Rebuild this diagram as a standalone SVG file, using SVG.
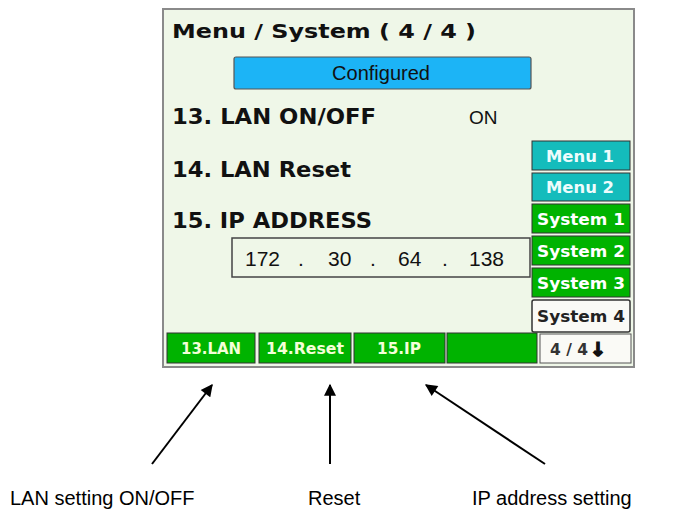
<svg xmlns="http://www.w3.org/2000/svg" width="678" height="518" viewBox="0 0 678 518">
<defs>
<style>
.scr{font-family:"DejaVu Sans",Verdana,sans-serif;font-weight:bold;fill:#111}
.lbl{font-family:"Liberation Sans",Arial,sans-serif;font-size:20px;fill:#000}
.btn{font-family:"DejaVu Sans",Verdana,sans-serif;font-weight:bold;font-size:15px;text-anchor:middle}
.teal{fill:#14bcbc;stroke:#333;stroke-width:1}
.grn{fill:#00b300;stroke:#333;stroke-width:1}
.conn{stroke:#000;stroke-width:2;fill:none;marker-end:url(#ah)}
</style>
<marker id="ah" viewBox="0 0 10 10" refX="9" refY="5" markerWidth="7" markerHeight="6" orient="auto" markerUnits="strokeWidth">
<path d="M0,0 L10,5 L0,10 z" fill="#000"/>
</marker>
</defs>
<rect width="678" height="518" fill="#fff"/>
<g id="screen">
<rect x="163" y="9" width="471" height="358" fill="#eff7e8" stroke="#8a8a8a" stroke-width="2"/>
<text class="scr" x="172" y="38" font-size="20" textLength="304" lengthAdjust="spacingAndGlyphs">Menu / System ( 4 / 4 )</text>
</g>
<g id="configured">
<rect x="234" y="57" width="297" height="32" rx="2" fill="#1cb4f6" stroke="#555" stroke-width="1.2"/>
<text x="381" y="80" font-family="Liberation Sans,Arial,sans-serif" font-size="20" text-anchor="middle" fill="#111">Configured</text>
</g>
<g id="lan-onoff">
<text class="scr" x="172" y="124" font-size="21" textLength="204" lengthAdjust="spacingAndGlyphs">13. LAN ON/OFF</text>
<text x="469" y="124" font-family="Liberation Sans,Arial,sans-serif" font-size="19" fill="#111">ON</text>
</g>
<g id="lan-reset">
<text class="scr" x="172" y="177" font-size="21" textLength="179" lengthAdjust="spacingAndGlyphs">14. LAN Reset</text>
</g>
<g id="ip-address">
<text class="scr" x="172" y="228" font-size="21" textLength="200" lengthAdjust="spacingAndGlyphs">15. IP ADDRESS</text>
<rect x="232" y="238" width="298" height="39" fill="none" stroke="#444" stroke-width="1.5"/>
<g font-family="Liberation Sans,Arial,sans-serif" font-size="21" fill="#111">
<text x="245" y="266">172</text><text x="298" y="266">.</text>
<text x="328" y="266">30</text><text x="370" y="266">.</text>
<text x="398" y="266">64</text><text x="442" y="266">.</text>
<text x="469" y="266">138</text>
</g>
</g>
<g id="side-menu1"><rect class="teal" x="532" y="141" width="98" height="29"/><text class="btn" x="580" y="162" fill="#eefcfc" textLength="68" lengthAdjust="spacingAndGlyphs">Menu 1</text></g>
<g id="side-menu2"><rect class="teal" x="532" y="173" width="98" height="28"/><text class="btn" x="580" y="193" fill="#eefcfc" textLength="68" lengthAdjust="spacingAndGlyphs">Menu 2</text></g>
<g id="side-system1"><rect class="grn" x="532" y="204" width="98" height="29"/><text class="btn" x="581" y="225" fill="#fff" textLength="88" lengthAdjust="spacingAndGlyphs">System 1</text></g>
<g id="side-system2"><rect class="grn" x="532" y="236" width="98" height="29"/><text class="btn" x="581" y="257" fill="#fff" textLength="88" lengthAdjust="spacingAndGlyphs">System 2</text></g>
<g id="side-system3"><rect class="grn" x="532" y="268" width="98" height="29"/><text class="btn" x="581" y="289" fill="#fff" textLength="88" lengthAdjust="spacingAndGlyphs">System 3</text></g>
<g id="side-system4"><rect x="532" y="300" width="98" height="32" rx="2" fill="#fafaf6" stroke="#333" stroke-width="1.5"/><text class="btn" x="581" y="322" fill="#222" textLength="88" lengthAdjust="spacingAndGlyphs">System 4</text></g>
<g id="tab-page"><rect x="540" y="334" width="91" height="29" fill="#fafaf6" stroke="#555" stroke-width="1"/><text class="btn" x="569" y="355" fill="#333" textLength="38" lengthAdjust="spacingAndGlyphs">4 / 4</text><text x="590" y="356" font-family="DejaVu Sans,sans-serif" font-weight="bold" font-size="19" fill="#111" stroke="#111" stroke-width="1.5">↓</text></g>
<g id="tab-lan"><rect class="grn" x="167" y="333" width="88" height="30"/><text class="btn" x="211" y="354" fill="#f4ffd8" textLength="60" lengthAdjust="spacingAndGlyphs">13.LAN</text></g>
<g id="tab-reset"><rect class="grn" x="259" y="333" width="92" height="30"/><text class="btn" x="305" y="354" fill="#f4ffd8" textLength="78" lengthAdjust="spacingAndGlyphs">14.Reset</text></g>
<g id="tab-ip"><rect class="grn" x="354" y="333" width="91" height="30"/><text class="btn" x="399" y="354" fill="#f4ffd8" textLength="44" lengthAdjust="spacingAndGlyphs">15.IP</text></g>
<g id="tab-blank"><rect class="grn" x="447" y="333" width="90" height="30"/></g>
<g id="connectors">
<line class="conn" x1="152" y1="464" x2="212" y2="385"/>
<line class="conn" x1="330" y1="464" x2="330" y2="385"/>
<line class="conn" x1="545" y1="464" x2="426" y2="385"/>
</g>
<g id="label-lan"><text class="lbl" x="10" y="505">LAN setting ON/OFF</text></g>
<g id="label-reset"><text class="lbl" x="308" y="505">Reset</text></g>
<g id="label-ip"><text class="lbl" x="472" y="505">IP address setting</text></g>
</svg>
